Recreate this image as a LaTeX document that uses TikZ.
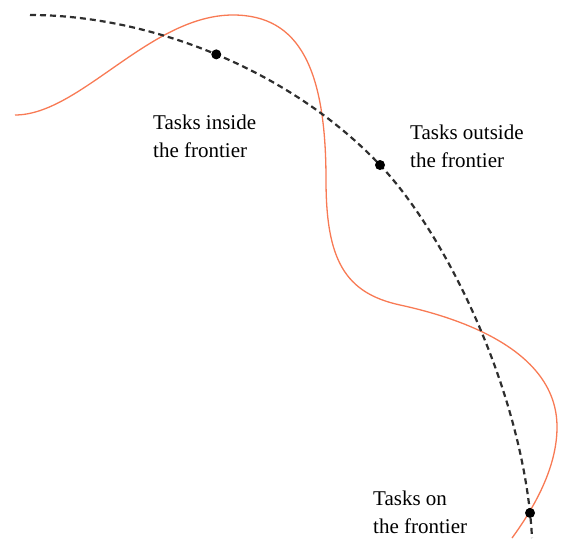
\documentclass[tikz,border=0pt]{standalone}
\usepackage{fontspec}
\setmainfont{Liberation Serif}
\definecolor{frontierorange}{RGB}{248,122,84}
\begin{document}
\begin{tikzpicture}[x=1pt,y=-1pt,
  dot/.style={circle,fill=black,inner sep=0pt,minimum size=10pt},
  label/.style={anchor=north west,inner sep=0pt,align=left,
    font=\fontsize{21}{28}\selectfont}]
\useasboundingbox (0,0) rectangle (561,538);
% orange task curve
\draw[frontierorange,line width=1.3pt] (15,115)
  .. controls (80,115) and (150,15) .. (233,15)
  .. controls (300,15) and (326,70) .. (326,180)
  .. controls (326,260) and (345,293) .. (400,305)
  .. controls (460,318) and (557,350) .. (557,427)
  .. controls (557,460) and (542,497) .. (512,538);
% dashed frontier with the three points on it
\draw[dash pattern=on 6pt off 4pt,line width=2.2pt,black!82] (30,15)
  .. controls (150,15) and (290,70) .. node[dot,pos=0.5] (insidedot) {} (380,165)
  node[dot] (outsidedot) {}
  .. controls (450,239) and (525,400) .. node[dot,pos=0.94] (ondot) {} (532,538);
\node[label] (insidetext) at (153,115) {Tasks inside\\the frontier};
\node[label] (outsidetext) at (410,125) {Tasks outside\\the frontier};
\node[label] (ontext) at (373,491) {Tasks on\\the frontier};
\end{tikzpicture}
\end{document}
